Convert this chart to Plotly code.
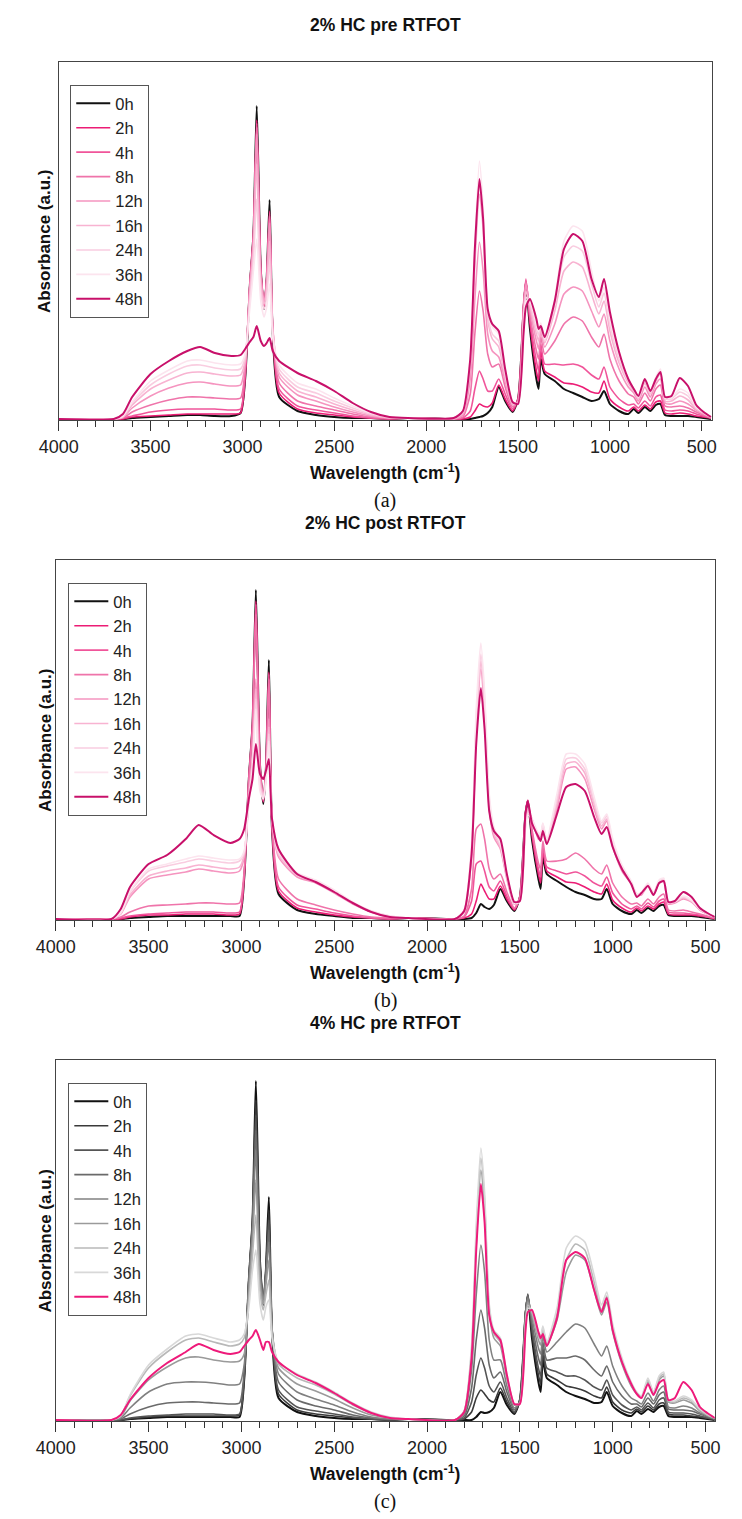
import plotly.graph_objects as go

# ---------------- data ----------------
WAVENUMBER = [4000, 3700, 3650, 3600, 3500, 3400, 3300, 3230, 3150, 3060,
              3010, 2985, 2960, 2940, 2922, 2900, 2882, 2868, 2852, 2835,
              2800, 2700, 2600, 2500, 2400, 2300, 2200, 2100, 1850, 1800,
              1760, 1735, 1710, 1690, 1665, 1640, 1605, 1570, 1530, 1500,
              1470, 1457, 1435, 1400, 1388, 1376, 1355, 1300, 1250, 1200,
              1150, 1100, 1060, 1032, 1000, 950, 900, 870, 845, 810,
              780, 750, 725, 700, 665, 620, 575, 530, 490, 450]

HOURS = ["0h", "2h", "4h", "8h", "12h", "16h", "24h", "36h", "48h"]

TITLES = ["2% HC pre RTFOT", "2% HC post RTFOT", "4% HC pre RTFOT"]
PANEL_LABELS = ["(a)", "(b)", "(c)"]
X_TICKS = [4000, 3500, 3000, 2500, 2000, 1500, 1000, 500]

# Panel (a): 2% HC pre RTFOT
A_0h = [0,0,0,1,2,3,4,4,3,3, 6,40,132,185,313,150,110,140,219,85, 22,8,4,2,1,1,0,1,0,0,
        0,1,2,3,6,12,32,18,7,20, 110,137,90,40,30,60,45,38,30,26, 22,18,20,28,15,8,5,10,6,12,
        8,14,15,4,3,3,3,2,1,0]
A_2h = [0,0,0,2,3,4,5,5,5,5, 6,42,132,185,299,150,112,140,208,88, 26,10,6,4,2,1,0,1,0,0,
        2,8,15,13,12,16,34,20,8,20, 112,138,95,48,38,68,48,42,36,35, 32,27,26,38,20,12,8,12,8,14,
        10,17,18,6,5,6,5,3,2,1]
A_4h = [0,0,1,3,7,9,10,10,10,9, 10,45,133,184,296,148,114,140,206,90, 30,13,9,6,3,1,0,1,0,1,
        8,30,48,40,28,28,40,25,10,20, 115,140,100,58,48,75,55,55,54,55, 52,44,40,52,32,20,14,15,11,18,
        13,22,24,9,8,9,8,5,3,1]
A_8h = [0,0,1,7,14,19,22,22,21,20, 21,50,133,182,292,146,116,139,203,92, 36,18,13,9,5,2,1,1,0,2,
        25,85,128,108,65,52,55,32,12,18, 112,138,105,68,60,82,65,78,95,102, 98,82,72,85,60,38,25,22,15,26,
        18,30,34,13,12,13,11,7,4,1]
A_12h = [0,0,2,11,23,31,36,37,35,33, 34,55,130,178,285,142,118,137,196,93, 42,24,18,12,7,3,1,1,0,4,
         40,120,177,148,85,68,62,38,14,17, 108,135,110,78,70,88,72,95,125,132, 128,108,92,105,78,50,32,26,18,32,
         22,35,40,16,15,18,15,9,5,2]
A_16h = [0,0,2,14,30,39,46,47,45,43, 44,58,125,170,255,135,115,130,178,90, 46,28,22,15,9,4,1,1,0,6,
         52,155,225,190,100,80,72,42,15,16, 100,128,113,85,78,92,76,108,148,157, 152,125,105,118,88,56,36,28,20,36,
         25,38,45,18,18,23,19,10,6,2]
A_24h = [0,0,3,16,34,45,53,54,51,49, 50,62,118,160,220,128,110,122,158,86, 50,32,26,18,11,5,2,1,1,7,
         58,165,240,200,105,85,78,45,16,16, 95,122,116,90,84,95,78,115,162,173, 168,135,112,126,95,60,38,30,21,38,
         26,40,48,20,20,27,23,11,6,2]
A_36h = [0,0,3,17,38,49,58,59,56,54, 55,65,110,148,180,118,102,112,135,82, 54,36,30,21,13,6,2,1,1,8,
         62,175,258,212,110,92,85,48,17,15, 90,118,118,95,88,96,80,120,178,193, 188,148,118,132,100,64,40,30,22,40,
         28,42,50,21,21,30,26,12,7,2]
A_48h = [0,0,5,22,45,58,68,72,66,63, 64,70,77,82,93,78,73,76,81,68, 58,46,38,28,16,7,2,1,1,8,
         60,170,240,200,110,95,88,50,17,15, 85,112,120,100,90,93,82,118,170,185, 178,140,122,140,107,67,40,30,23,40,
         28,40,47,22,23,41,33,14,7,2]

# Panel (b): 2% HC post RTFOT
B_0h = [0,0,0,1,2,3,3,3,3,3, 3,40,140,195,329,155,115,150,259,90, 25,9,5,3,1,1,0,1,0,0,
        1,6,15,12,10,14,30,18,8,22, 105,118,80,40,30,62,45,38,32,27, 24,20,20,30,15,8,5,9,6,11,
        8,13,14,4,3,3,3,2,1,0]
B_2h = [0,0,0,2,4,4,5,5,5,4, 5,42,140,195,318,155,117,150,247,92, 28,11,7,4,2,1,0,1,0,1,
        5,18,35,28,20,20,33,20,9,22, 105,118,84,45,36,68,48,42,37,36, 32,27,25,35,19,11,7,11,8,13,
        10,15,17,5,4,4,4,3,2,0]
B_4h = [0,0,1,3,5,6,7,7,7,6, 7,44,140,193,315,153,118,148,245,94, 32,14,10,6,3,1,0,1,0,2,
        18,55,58,48,32,28,38,23,10,22, 106,119,88,50,42,72,52,48,45,47, 43,36,33,42,26,15,10,13,10,16,
        12,18,20,7,6,6,5,4,2,1]
B_8h = [0,0,2,7,13,14,15,16,16,15, 16,48,138,190,305,150,120,146,240,96, 40,20,14,9,5,2,1,1,0,3,
        30,90,95,80,50,40,45,27,11,21, 104,117,90,56,50,78,58,58,60,66, 60,50,45,54,36,22,15,16,13,20,
        15,22,25,9,8,9,7,5,3,1]
B_12h = [0,0,5,22,40,44,47,50,48,46, 48,62,125,165,240,140,125,142,200,100, 62,42,36,26,15,7,2,1,0,7,
         62,185,250,205,110,82,70,40,15,18, 96,110,100,80,80,92,75,110,150,152, 140,110,90,98,72,48,35,24,24,33,
         24,36,38,15,16,20,17,9,5,2]
B_16h = [0,0,5,24,43,48,51,54,52,50, 52,64,122,160,230,136,124,140,192,100, 64,44,37,27,16,7,2,1,0,8,
         66,195,258,212,115,85,72,42,15,18, 94,108,100,82,82,94,77,115,155,157, 146,115,93,100,75,50,36,24,25,34,
         25,37,39,16,17,21,18,9,5,2]
B_24h = [0,0,6,27,48,53,57,60,58,56, 58,66,118,155,220,132,122,138,185,100, 66,45,38,28,16,8,3,1,0,8,
         70,200,265,220,120,88,74,43,16,18, 92,106,100,84,84,95,78,120,160,161, 150,118,96,103,77,52,37,25,26,35,
         26,38,40,16,17,22,18,10,5,2]
B_36h = [0,0,6,28,50,55,60,63,61,59, 60,68,115,150,210,128,120,136,178,100, 68,46,39,29,17,8,3,1,0,9,
         75,210,276,228,125,92,76,44,16,17, 90,104,100,86,86,96,80,125,165,165, 155,122,98,105,80,54,38,25,27,36,
         26,39,41,17,18,23,19,10,6,2]
B_48h = [0,0,10,32,55,64,80,94,84,76, 80,90,120,140,175,145,140,148,160,100, 70,45,37,27,16,7,2,1,0,8,
         65,175,231,190,108,88,80,45,17,18, 105,118,96,82,78,88,75,105,132,135, 128,102,85,92,72,50,35,22,26,33,
         24,36,38,17,18,27,22,11,6,2]

# Panel (c): 4% HC pre RTFOT
C_0h = [0,0,0,1,2,3,3,3,3,3, 3,40,140,200,339,160,115,150,223,88, 22,8,4,2,1,1,0,1,0,0,
        0,3,8,7,8,12,28,15,6,20, 105,124,82,38,28,60,42,35,28,24, 21,17,18,28,14,7,4,9,6,11,
        8,13,14,4,3,3,3,2,1,0]
C_2h = [0,0,0,1,3,4,4,4,4,4, 5,42,140,200,320,158,117,150,210,90, 26,10,6,4,2,1,0,1,0,1,
        8,22,30,26,20,18,32,18,7,20, 106,125,87,45,36,66,46,40,34,32, 29,24,22,33,18,10,7,11,8,14,
        10,16,17,6,5,5,4,3,2,0]
C_4h = [0,0,0,2,4,5,6,6,6,5, 6,44,140,198,305,155,118,148,200,91, 30,13,9,6,3,1,0,1,0,2,
        18,45,62,52,34,28,38,22,8,20, 107,126,92,52,44,72,52,48,44,44, 40,33,30,40,25,15,10,13,10,17,
        12,20,22,8,7,7,6,4,2,1]
C_8h = [0,0,1,6,13,17,18,18,17,16, 17,48,139,195,290,152,120,146,190,92, 38,20,14,10,5,2,1,1,0,4,
        32,80,110,92,55,42,48,28,10,19, 106,125,97,62,55,78,60,62,62,64, 60,50,44,54,38,24,16,16,13,22,
        16,25,28,11,10,10,9,6,3,1]
C_12h = [0,0,2,12,28,36,38,38,37,35, 36,55,136,190,270,146,120,143,178,92, 46,28,21,15,8,3,1,1,0,6,
         50,125,175,148,80,60,60,34,12,18, 103,122,102,72,66,84,68,78,88,96, 92,76,64,74,54,34,22,19,16,27,
         19,30,34,13,12,14,12,7,4,1]
C_16h = [0,0,3,19,40,53,62,63,60,58, 59,66,128,178,240,138,116,135,160,90, 52,36,29,21,12,5,2,1,0,8,
         65,175,250,210,108,82,74,42,15,17, 98,118,106,80,75,90,74,100,148,165, 160,130,105,118,88,56,34,26,22,38,
         26,40,44,18,17,20,17,9,5,2]
C_24h = [0,0,4,24,52,68,80,82,78,74, 76,82,120,165,205,128,110,125,140,86, 56,42,35,26,15,7,2,1,0,9,
         70,185,262,220,112,86,78,44,16,17, 95,115,108,84,80,92,76,106,160,176, 170,138,110,124,92,59,36,27,23,40,
         27,42,46,19,18,22,19,10,5,2]
C_36h = [0,0,4,25,55,71,84,86,82,78, 80,86,112,150,170,116,100,113,120,82, 58,46,38,28,17,8,3,1,0,9,
         75,195,272,228,116,90,82,46,16,16, 92,112,110,88,84,94,78,112,172,184, 178,145,115,128,96,62,38,28,24,42,
         28,44,48,20,19,24,20,11,6,2]
C_48h = [0,0,5,20,42,57,68,76,70,66, 68,74,80,84,90,80,70,78,78,68, 58,45,37,27,16,7,2,1,0,8,
         62,170,236,198,105,88,80,45,16,16, 88,108,110,88,82,86,74,102,160,168, 162,130,108,122,90,58,36,26,22,36,
         25,37,40,20,22,38,30,13,7,2]

PANEL_A = [A_0h, A_2h, A_4h, A_8h, A_12h, A_16h, A_24h, A_36h, A_48h]
PANEL_B = [B_0h, B_2h, B_4h, B_8h, B_12h, B_16h, B_24h, B_36h, B_48h]
PANEL_C = [C_0h, C_2h, C_4h, C_8h, C_12h, C_16h, C_24h, C_36h, C_48h]

for s in PANEL_A + PANEL_B + PANEL_C:
    assert len(s) == len(WAVENUMBER), len(s)

# ---------------- styling ----------------
PINKS = ["#111111", "#ec1c75", "#f0559a", "#ef74aa", "#f594bf",
         "#f8b3d1", "#f9cde0", "#fce4ee", "#c8106a"]
GRAYS = ["#111111", "#3a3a3a", "#555555", "#6a6a6a", "#808080",
         "#9a9a9a", "#b8b8b8", "#d8d8d8", "#ee1a7a"]
WIDTHS = [2.0, 1.6, 1.6, 1.6, 1.6, 1.6, 1.6, 1.6, 2.0]

H = 1519.0
Wd = 742.0
SANS = "Liberation Sans, Arial, sans-serif"
SERIF = "Liberation Serif, Times New Roman, serif"

panels = [
    dict(series=PANEL_A, colors=PINKS, xd=[40 / Wd, 716 / Wd], top=62, bot=420,
         xr=[4000, 445], leg="legend", legx=52, legy=85,
         title_y=25, xt_y=472, lab_y=500),
    dict(series=PANEL_B, colors=PINKS, xd=[37 / Wd, 719 / Wd], top=560, bot=920,
         xr=[4000, 450], leg="legend2", legx=50, legy=583,
         title_y=523, xt_y=972, lab_y=1000),
    dict(series=PANEL_C, colors=GRAYS, xd=[37 / Wd, 719 / Wd], top=1060, bot=1421,
         xr=[4000, 450], leg="legend3", legx=50, legy=1083,
         title_y=1023, xt_y=1473, lab_y=1501),
]

fig = go.Figure()
layout = dict(width=742, height=1519, margin=dict(l=0, r=0, t=0, b=0),
              paper_bgcolor="white", plot_bgcolor="white", showlegend=True)
annotations = []

for k, p in enumerate(panels):
    sfx = "" if k == 0 else str(k + 1)
    xa, ya = "x" + sfx, "y" + sfx
    for i, name in enumerate(HOURS):
        fig.add_trace(go.Scatter(
            x=WAVENUMBER, y=p["series"][i], mode="lines", name=name,
            line=dict(color=p["colors"][i], width=WIDTHS[i], shape="spline", smoothing=0.6),
            xaxis=xa, yaxis=ya, legend=p["leg"], hoverinfo="skip"))
    frame_h = p["bot"] - p["top"]
    layout["xaxis" + sfx] = dict(
        domain=p["xd"], range=p["xr"], anchor=ya, tickmode="array", tickvals=X_TICKS,
        ticks="outside", ticklen=10, tickwidth=1, tickcolor="#333",
        showline=True, mirror=True, linecolor="#444", linewidth=1.2,
        showgrid=False, zeroline=False,
        tickfont=dict(family=SANS, size=18, color="#222"),
        minor=dict(dtick=100, tick0=0, ticks="outside", ticklen=6, tickwidth=1,
                   tickcolor="#333", showgrid=False))
    layout["yaxis" + sfx] = dict(
        domain=[1 - p["bot"] / H, 1 - p["top"] / H], range=[-1, frame_h - 1],
        anchor=xa, showticklabels=False, ticks="", showline=True, mirror=True,
        linecolor="#444", linewidth=1.2, showgrid=False, zeroline=False)
    layout[p["leg"]] = dict(
        x=p["legx"] / Wd, y=1 - p["legy"] / H, xanchor="left", yanchor="top",
        bordercolor="#555", borderwidth=1, bgcolor="white",
        font=dict(family=SANS, size=16.5, color="#222"), tracegroupgap=0, itemwidth=34)
    cx = (p["xd"][0] + p["xd"][1]) / 2
    annotations += [
        dict(text="<b>" + TITLES[k] + "</b>", x=cx, y=1 - p["title_y"] / H, xref="paper",
             yref="paper", showarrow=False, xanchor="center", yanchor="middle",
             font=dict(family=SANS, size=17.5, color="#111")),
        dict(text="<b>Wavelength (cm<sup>-1</sup>)</b>", x=cx, y=1 - p["xt_y"] / H,
             xref="paper", yref="paper", showarrow=False, xanchor="center", yanchor="middle",
             font=dict(family=SANS, size=17.5, color="#111")),
        dict(text=PANEL_LABELS[k], x=cx, y=1 - p["lab_y"] / H, xref="paper", yref="paper",
             showarrow=False, xanchor="center", yanchor="middle",
             font=dict(family=SERIF, size=20, color="#111")),
        dict(text="<b>Absorbance (a.u.)</b>", x=26 / Wd, y=1 - (p["top"] + p["bot"]) / 2 / H,
             xref="paper", yref="paper", showarrow=False, textangle=-90,
             xanchor="center", yanchor="middle",
             font=dict(family=SANS, size=17, color="#111")),
    ]

layout["annotations"] = annotations
fig.update_layout(**layout)
fig.write_html("out.html")
